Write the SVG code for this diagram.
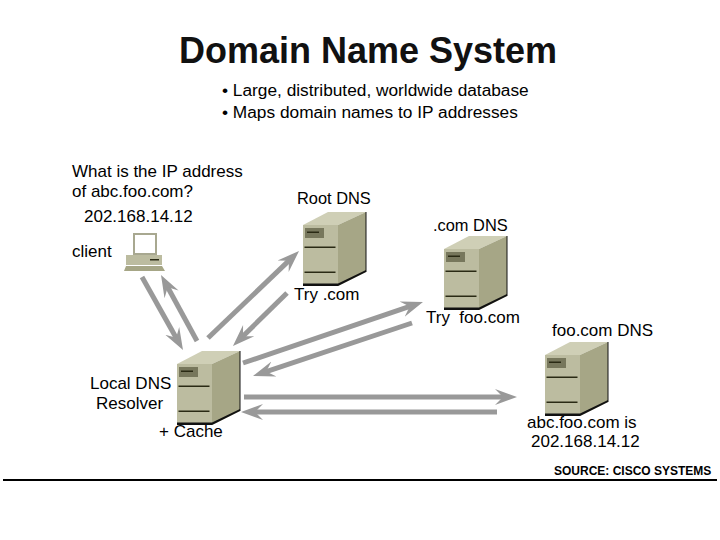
<svg xmlns="http://www.w3.org/2000/svg" width="720" height="540" viewBox="0 0 720 540">
<style>
text{font-family:"Liberation Sans",Arial,sans-serif;font-size:17px;fill:#000}
.t{font-size:36px;font-weight:bold;fill:#111}
.s{font-size:12px;font-weight:bold}
.n{font-size:16.400px}
.b{font-size:17.300px}
.c line{stroke:#999;stroke-width:5;marker-end:url(#a)}
.dk{fill:#2a2a14}
</style>
<defs>
<marker id="a" markerUnits="userSpaceOnUse" markerWidth="24" markerHeight="20" refX="12" refY="10" orient="auto">
<path d="M0 2 L22 10 L0 18 L8 10Z" fill="#999"/>
</marker>
<g id="srv">
<path d="M0 0L25-13H63L35 0Z" fill="#cfcfb6"/>
<rect width="35" height="61" fill="#bcbca0"/>
<path d="M35 0L63-13V47L35 61Z" fill="#a6a686"/>
<path d="M0 61H35L63 47V45L35 58.500H0Z" fill="#111"/>
<path d="M63-13V47" stroke="#111" stroke-width="1" fill="none"/>
<rect x="2" y="3" width="19" height="10" fill="#77775c"/>
<rect x="4" y="6.500" width="12" height="1.500" class="dk"/>
<rect x="1.500" y="21.500" width="31" height="1.500" class="dk"/>
<rect x="1.500" y="46.500" width="31" height="1.500" class="dk"/>
</g>
</defs>
<rect width="720" height="540" fill="#fff"/>
<text class="t" x="368" y="63" text-anchor="middle">Domain Name System</text>
<text class="b" x="222" y="96">• Large, distributed, worldwide database</text>
<text class="b" x="222" y="118">• Maps domain names to IP addresses</text>
<g id="client">
<path d="M134 234H156V254H134Z" fill="#fff" stroke="#a8a890" stroke-width="2"/>
<path d="M126 255H162V265H126Z" fill="#bcbca0"/>
<rect x="150" y="259" width="9" height="1.500" class="dk"/>
<path d="M126 266H162L165 271H124Z" fill="#a6a686"/>
<text x="72" y="257">client</text>
<text x="72" y="177">What is the IP address</text>
<text x="72" y="197">of abc.foo.com?</text>
<text x="84" y="222">202.168.14.12</text>
</g>
<g id="root-dns"><use href="#srv" x="303" y="225"/><text class="n" x="297" y="204">Root DNS</text><text x="294" y="300">Try .com</text></g>
<g id="com-dns"><use href="#srv" x="444" y="249"/><text class="n" x="433" y="231">.com DNS</text><text x="426" y="323">Try&#160; foo.com</text></g>
<g id="foo-dns"><use href="#srv" x="545" y="355"/><text x="552" y="336">foo.com DNS</text><text x="527" y="428">abc.foo.com is</text><text x="531" y="447">202.168.14.12</text></g>
<g id="local-dns"><use href="#srv" x="177" y="364"/><text x="90" y="389">Local DNS</text><text x="96" y="409">Resolver</text><text x="159" y="437">+ Cache</text></g>
<g id="connectors" class="c">
<line x1="142" y1="277" x2="178.100" y2="341.300"/>
<line x1="197" y1="341" x2="165.800" y2="283.800"/>
<line x1="208" y1="338" x2="291.800" y2="257.900"/>
<line x1="287" y1="293" x2="240.100" y2="339"/>
<line x1="243" y1="363" x2="413.500" y2="305.200"/>
<line x1="412" y1="323" x2="262.500" y2="372.800"/>
<line x1="244" y1="397" x2="507" y2="397"/>
<line x1="497" y1="412" x2="251" y2="412"/>
</g>
<text class="s" x="554" y="475">SOURCE: CISCO SYSTEMS</text>
<rect x="3" y="479" width="714" height="2" fill="#000"/>
</svg>
